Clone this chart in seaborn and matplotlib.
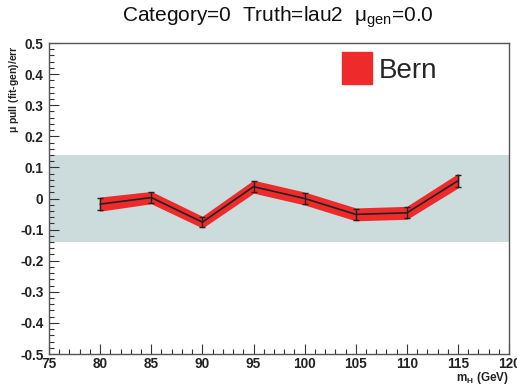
import numpy as np
import matplotlib.pyplot as plt
import matplotlib.patches as mpatches
from matplotlib.ticker import MultipleLocator
import pandas as pd
import seaborn as sns

# values
mass = [80, 85, 90, 95, 100, 105, 110, 115]
pull = [-0.018, 0.003, -0.076, 0.038, 0.0, -0.051, -0.046, 0.057]
pull_err = [0.020, 0.017, 0.016, 0.018, 0.018, 0.018, 0.018, 0.020]
band_lo, band_hi = -0.14, 0.14
series_name = "Bern"
y_ticks = [-0.5, -0.4, -0.3, -0.2, -0.1, 0.0, 0.1, 0.2, 0.3, 0.4, 0.5]
x_ticks = [75, 80, 85, 90, 95, 100, 105, 110, 115, 120]

red = "#ee2a2a"
band_color = "#ccdbdb"

sns.set_style("ticks")
plt.rcParams["font.family"] = ["Liberation Sans", "DejaVu Sans"]

df = pd.DataFrame({"mH": mass, "pull": pull, "err": pull_err})
lo = df["pull"] - df["err"]
hi = df["pull"] + df["err"]

fig = plt.figure(figsize=(5.17, 3.9), dpi=100)
ax = fig.add_axes([0.0948, 0.0923, 0.89, 0.7974])

ax.axhspan(band_lo, band_hi, color=band_color, zorder=0, lw=0)
ax.fill_between(df["mH"], lo, hi, color=red, lw=1.2, edgecolor=red, zorder=2)
sns.lineplot(data=df, x="mH", y="pull", color="#222222", lw=1.2, ax=ax, zorder=3)
ax.errorbar(df["mH"], df["pull"], yerr=df["err"], fmt="none", ecolor="#222222",
            elinewidth=1, capsize=2, capthick=1, zorder=4)

ax.set_xlim(75, 120)
ax.set_ylim(-0.5, 0.5)
ax.xaxis.set_minor_locator(MultipleLocator(1))
ax.yaxis.set_minor_locator(MultipleLocator(0.02))
ax.tick_params(which="both", direction="in", top=False, right=False, width=0.8,
               color="#333333", labelsize=9.8)
ax.tick_params(axis="x", pad=2)
ax.tick_params(axis="y", pad=4)
ax.tick_params(which="major", length=7)
ax.tick_params(which="minor", length=3.5)
ax.set_yticks(y_ticks)
ax.set_yticklabels([("%g" % (v + 0.0)) for v in y_ticks], fontweight="bold", color="#222222")
ax.set_xticks(x_ticks)
ax.set_xticklabels([str(v) for v in x_ticks], fontweight="bold", color="#222222")
for s in ax.spines.values():
    s.set_color("#555555")
    s.set_linewidth(1)

ax.set_xlabel("")
ax.set_ylabel("")
fig.text(0.984, 0.032, r"m$_{\mathregular{H}}$ (GeV)", ha="right", va="center",
         fontsize=8.5, fontweight="bold", color="#222222")
fig.text(0.028, 0.885, r"$\mathregular{\mu}$ pull (fit-gen)/err", rotation=90,
         ha="center", va="top", fontsize=7.5, fontweight="bold", color="#222222")

fig.text(0.538, 0.955, r"Category=0  Truth=lau2  $\mathregular{\mu}_{\mathregular{gen}}$=0.0",
         ha="center", va="center", fontsize=15, color="#111111")

handle = mpatches.Patch(color=red, label=series_name)
ax.legend(handles=[handle], loc="upper left", bbox_to_anchor=(0.637, 0.97),
          frameon=False, fontsize=20, handlelength=1.08, handleheight=1.4,
          handletextpad=0.25, borderpad=0, borderaxespad=0)

fig.savefig("out.png", dpi=100)
